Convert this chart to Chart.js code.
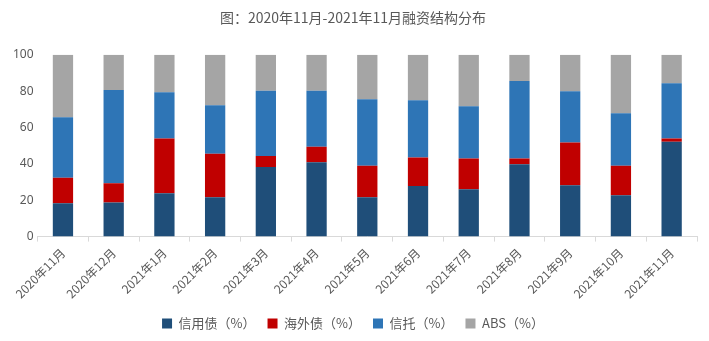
<!DOCTYPE html>
<html>
  <head>
    <meta charset="utf-8">
    <title>融资结构分布</title>
    <script src="https://cdn.jsdelivr.net/npm/chart.js@4.4.0/dist/chart.umd.min.js"></script>
    <style>
      body { margin: 0; background: #ffffff; }
      #wrap { width: 709px; height: 341px; }
    </style>
    <script>
      // months on the x axis
      const months = ['2020年11月', '2020年12月', '2021年1月', '2021年2月', '2021年3月', '2021年4月', '2021年5月',
                      '2021年6月', '2021年7月', '2021年8月', '2021年9月', '2021年10月', '2021年11月'];

      // share of each financing channel (%)
      const creditBond   = [18.3, 18.7, 23.9, 21.7, 38.3, 40.9, 21.7, 27.8, 26.1, 39.8, 28.3, 22.8, 52.2];
      const overseasBond = [14.1, 10.7, 30.0, 23.9,  6.1,  8.5, 17.2, 15.7, 16.8,  3.1, 23.4, 16.1,  1.7];
      const trust        = [33.2, 51.2, 25.5, 26.6, 35.8, 30.8, 36.7, 31.5, 28.8, 42.7, 28.3, 28.9, 30.5];
      const abs          = [34.4, 19.4, 20.6, 27.8, 19.8, 19.8, 24.4, 25.0, 28.3, 14.4, 20.0, 32.2, 15.6];

      const seriesNames = ['信用债（%）', '海外债（%）', '信托（%）', 'ABS（%）'];
      const yTicks = [0, 20, 40, 60, 80, 100];

      function drawChart() {
        const ctx = document.getElementById('chart');
        const colors = ['#1f4e79', '#c00000', '#2e75b6', '#a5a5a5'];
        const values = [creditBond, overseasBond, trust, abs];

        new Chart(ctx, {
          type: 'bar',
          data: {
            labels: months,
            datasets: seriesNames.map((name, i) => ({
              label: name,
              data: values[i],
              backgroundColor: colors[i],
              barPercentage: 0.4,
              categoryPercentage: 1.0
            }))
          },
          options: {
            responsive: false,
            animation: false,
            layout: { padding: { left: 9, right: 12, top: 0, bottom: 1 } },
            plugins: {
              title: {
                display: true,
                text: '图：2020年11月-2021年11月融资结构分布',
                color: '#595959',
                font: { size: 14, weight: 'normal', family: 'Noto Sans CJK SC' },
                padding: { top: 9, bottom: 29 }
              },
              legend: {
                position: 'bottom',
                labels: {
                  boxWidth: 10,
                  boxHeight: 10,
                  color: '#595959',
                  font: { size: 13, family: 'Noto Sans CJK SC' },
                  padding: 12
                }
              },
              tooltip: { enabled: false }
            },
            scales: {
              x: {
                stacked: true,
                grid: { display: true, drawOnChartArea: false, offset: true, color: '#d9d9d9', tickLength: 5 },
                border: { display: true, color: '#d9d9d9' },
                ticks: {
                  color: '#595959',
                  font: { size: 12, family: 'Noto Sans CJK SC' },
                  minRotation: 45,
                  maxRotation: 45,
                  autoSkip: false,
                  padding: 4
                }
              },
              y: {
                stacked: true,
                min: 0,
                max: 100,
                afterBuildTicks: axis => { axis.ticks = yTicks.map(v => ({ value: v })); },
                grid: { display: false, drawTicks: false },
                border: { display: false },
                ticks: {
                  color: '#595959',
                  font: { size: 12, family: 'Noto Sans' },
                  padding: 4
                }
              }
            }
          }
        });
      }
    </script>
  </head>
  <body onload="drawChart()">
    <div id="wrap"><canvas id="chart" width="709" height="341"></canvas></div>
  </body>
</html>
